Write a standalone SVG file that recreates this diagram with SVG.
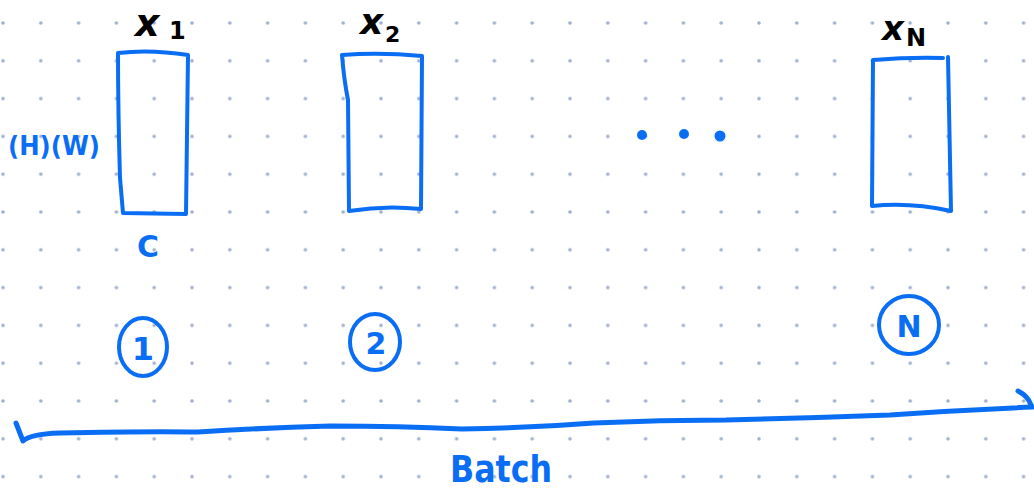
<svg xmlns="http://www.w3.org/2000/svg" width="1034" height="489" viewBox="0 0 1034 489">
<defs>
<pattern id="grid" x="3" y="23" width="37.8" height="37.8" patternUnits="userSpaceOnUse">
<circle cx="0" cy="0" r="1.8" fill="#9fafd0"/>
<circle cx="37.8" cy="0" r="1.8" fill="#9fafd0"/>
<circle cx="0" cy="37.8" r="1.8" fill="#9fafd0"/>
<circle cx="37.8" cy="37.8" r="1.8" fill="#9fafd0"/>
</pattern>
<style>
.ink{fill:none;stroke:#0a6ef5;stroke-width:4;stroke-linecap:round;stroke-linejoin:round}
.thick{stroke-width:5}
.lbl{font-family:"DejaVu Sans","Liberation Sans",sans-serif;font-weight:bold;fill:#000}
.blue{font-family:"DejaVu Sans","Liberation Sans",sans-serif;font-weight:bold;fill:#0a6ef5}
</style>
</defs>
<rect width="1034" height="489" fill="#ffffff"/>
<rect width="1034" height="489" fill="url(#grid)"/>

<g id="node-x1">
<path class="ink" d="M118 53 Q150 49 188 55 L186 214 L123 213 Q121 190 120 178 Q118 110 118 53 Z"/>
<text class="lbl" x="135" y="36" font-size="38" font-style="italic">x</text>
<text class="lbl" x="169" y="39" font-size="24">1</text>
</g>

<g id="node-x2">
<path class="ink" d="M342 55 Q380 52 422 56 L421 209 Q385 205 349 211 L348 100 Q344 80 342 55 Z"/>
<text class="lbl" x="360" y="34" font-size="36" font-style="italic">x</text>
<text class="lbl" x="385" y="42" font-size="22">2</text>
</g>

<g id="node-xN">
<path class="ink" d="M873 60 Q910 57 943 58 M948 57 L951 211 Q910 202 872 206 L873 60"/>
<text class="lbl" x="882" y="40" font-size="34" font-style="italic">x</text>
<text class="lbl" x="906" y="46" font-size="24">N</text>
</g>

<g id="labels">
<text class="blue" x="8" y="155" font-size="26" textLength="92" lengthAdjust="spacingAndGlyphs">(H)(W)</text>
<text class="blue" x="137" y="257" font-size="30">C</text>
<g id="ellipsis" fill="#0a6ef5">
<circle cx="642" cy="135" r="5"/>
<circle cx="684" cy="134" r="5"/>
<circle cx="720" cy="136" r="5.5"/>
</g>
</g>

<g id="node-1">
<ellipse class="ink" cx="143" cy="347" rx="24" ry="29"/>
<text class="blue" x="143" y="360" font-size="32" text-anchor="middle">1</text>
</g>
<g id="node-2">
<ellipse class="ink" cx="375" cy="342" rx="25" ry="28"/>
<text class="blue" x="376" y="354" font-size="30" text-anchor="middle">2</text>
</g>
<g id="node-N">
<ellipse class="ink" cx="909" cy="325" rx="30" ry="29"/>
<text class="blue" x="909" y="337" font-size="30" text-anchor="middle">N</text>
</g>

<g id="connectors">
<path class="ink thick" d="M16 423 L23 441 Q30 434 60 433 Q150 431 198 432 Q260 428 330 426 Q400 426 462 429 Q530 428 594 423 Q660 420 726 420 Q810 418 890 415 Q960 410 1033 407 M1018 391 Q1028 396 1031 405"/>
</g>

<text class="blue" x="450" y="482" font-size="38" textLength="102" lengthAdjust="spacingAndGlyphs">Batch</text>
</svg>
